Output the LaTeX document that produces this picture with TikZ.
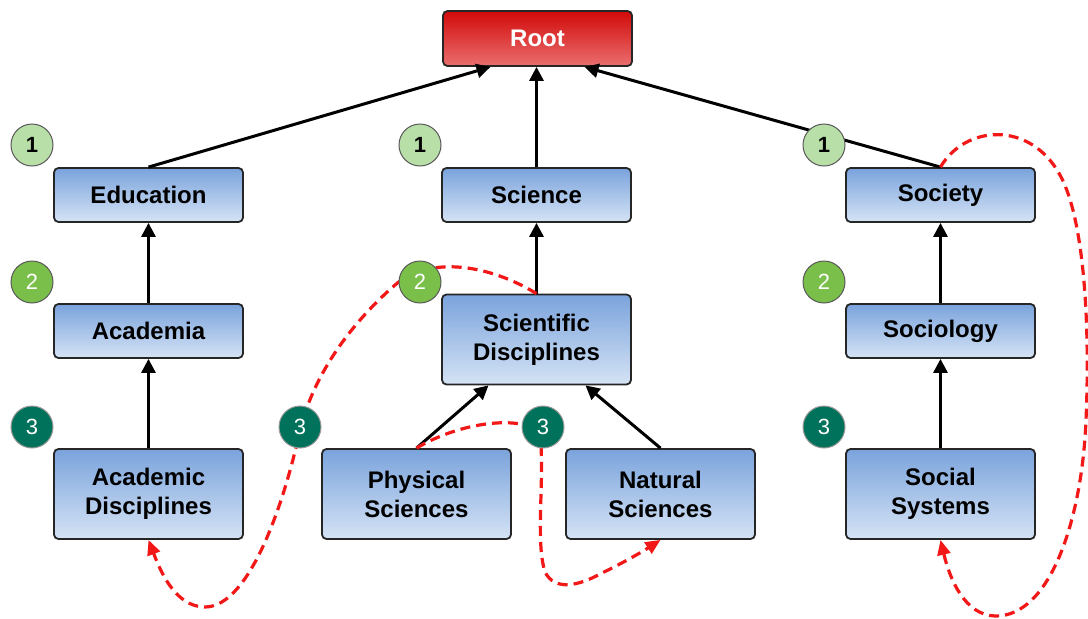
\documentclass[tikz,border=0pt]{standalone}
\usepackage{fontspec}
\setmainfont{Liberation Sans}
\usetikzlibrary{arrows.meta}
\definecolor{boxtop}{HTML}{7AA3DC}
\definecolor{boxbot}{HTML}{D5E3F5}
\definecolor{roottop}{HTML}{D20A0A}
\definecolor{rootbot}{HTML}{EA6E6E}
\definecolor{lvlone}{HTML}{B8DFA8}
\definecolor{lvltwo}{HTML}{79BF49}
\definecolor{lvlthree}{HTML}{00715A}
\definecolor{linkred}{HTML}{F21818}

\begin{document}
\begin{tikzpicture}[x=1pt,y=-1pt,
  box/.style={draw=black!85, line width=1.8pt, rounded corners=4.5pt,
    top color=boxtop, bottom color=boxbot,
    minimum width=189pt, minimum height=54pt, inner sep=0pt, align=center,
    font=\fontsize{24}{29}\selectfont\bfseries},
  tallbox/.style={box, minimum height=90pt},
  rootbox/.style={box, top color=roottop, bottom color=rootbot, text=white, minimum height=55pt},
  level/.style={circle, minimum size=42pt, inner sep=0pt, draw=black!65, line width=1pt,
    font=\fontsize{22}{22}\selectfont},
  lone/.style={level, fill=lvlone, font=\fontsize{22}{22}\selectfont\bfseries},
  ltwo/.style={level, fill=lvltwo, text=white},
  lthree/.style={level, fill=lvlthree, text=white, draw=black!40},
  tree/.style={line width=3pt, -{Triangle[length=14pt,width=14pt]}},
  link/.style={color=linkred, line width=3.2pt, dash pattern=on 10pt off 6pt,
    -{Triangle[length=15pt,width=13pt]}}
]
\useasboundingbox (0,0) rectangle (1088,619);

% boxes
\node[rootbox] (root) at (537.5,38.5) {Root};
\node[box] (edu) at (148.5,195) {Education};
\node[box] (sci) at (536.5,195) {Science};
\node[box] (soc) at (940.5,195) {Society};
\node[box] (acad) at (148.5,331) {Academia};
\node[tallbox] (scid) at (536.5,339.5) {Scientific\\Disciplines};
\node[box] (socio) at (940.5,331) {Sociology};
\node[tallbox] (acd) at (148.5,494) {Academic\\Disciplines};
\node[tallbox] (phys) at (416.5,494) {Physical\\Sciences};
\node[tallbox] (nat) at (660.5,494) {Natural\\Sciences};
\node[tallbox] (sys) at (940.5,494) {Social\\Systems};

% hierarchy
\draw[tree] (edu.north) -- ([xshift=-47pt]root.south);
\draw[tree] (sci.north) -- ([xshift=-1pt]root.south);
\draw[tree] (soc.north) -- ([xshift=47pt]root.south);
\draw[tree] (acad.north) -- (edu.south);
\draw[tree] (acd.north) -- (acad.south);
\draw[tree] (scid.north) -- (sci.south);
\draw[tree] (phys.north) -- ([xshift=-48pt]scid.south);
\draw[tree] (nat.north) -- ([xshift=49pt]scid.south);
\draw[tree] (socio.north) -- (soc.south);
\draw[tree] (sys.north) -- (socio.south);

% red dashed links
\draw[link] (soc.north) .. controls (965,125) and (1030,120) .. (1060,175)
  .. controls (1085,220) and (1090,330) .. (1086,420)
  .. controls (1082,520) and (1050,617) .. (995,616)
  .. controls (965,615) and (950,580) .. (sys.south);
\draw[link] (scid.north) .. controls (490,265) and (430,255) .. (395,285)
  .. controls (355,320) and (315,370) .. (300,430)
  .. controls (285,500) and (250,607) .. (205,607)
  .. controls (175,607) and (160,570) .. (acd.south);
\draw[link] (phys.north) .. controls (460,422) and (520,415) .. (540,432)
  .. controls (545,480) and (535,540) .. (545,572)
  .. controls (555,592) and (580,585) .. (600,574)
  .. controls (625,562) and (645,550) .. (nat.south);

% level markers
\node[lone] (a1) at (32,145) {1};
\node[lone] (b1) at (420,145) {1};
\node[lone] (c1) at (824,145) {1};
\node[ltwo] (a2) at (32,282) {2};
\node[ltwo] (b2) at (420,282) {2};
\node[ltwo] (c2) at (824,282) {2};
\node[lthree] (a3) at (32,427) {3};
\node[lthree] (b3) at (300,427) {3};
\node[lthree] (d3) at (543,427) {3};
\node[lthree] (c3) at (824,427) {3};
\end{tikzpicture}
\end{document}
